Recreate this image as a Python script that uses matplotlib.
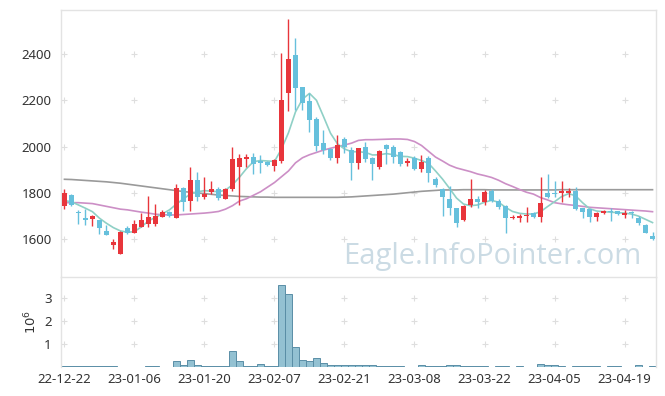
import matplotlib
matplotlib.use('Agg')
import matplotlib.pyplot as plt
import numpy as np
import pandas as pd

# trading days (KRX holidays skipped)
dates = pd.bdate_range('2022-12-22', '2023-04-25', freq='C',
                       holidays=['2022-12-30', '2023-01-23', '2023-01-24', '2023-03-01'])

opens = [1745, 1793, 1718, 1691, 1689, 1683, 1636, 1577, 1538, 1650,
         1629, 1654, 1664, 1668, 1698, 1718, 1691, 1820, 1765, 1856,
         1784, 1804, 1816, 1775, 1817, 1914, 1948, 1955, 1940, 1932,
         1917, 1940, 2231, 2396, 2257, 2199, 2121, 2017, 1989, 1953,
         2035, 1986, 1928, 1997, 1953, 1911, 2005, 1997, 1976, 1931,
         1953, 1904, 1953, 1860, 1817, 1773, 1734, 1683, 1748, 1773,
         1761, 1810, 1767, 1744, 1693, 1692, 1702, 1712, 1698, 1800,
         1800, 1799, 1801, 1810, 1734, 1730, 1698, 1712, 1722, 1722,
         1706, 1718, 1693, 1662, 1616]
closes = [1801, 1747, 1715, 1683, 1701, 1650, 1620, 1588, 1632, 1626,
          1666, 1683, 1697, 1701, 1718, 1700, 1820, 1762, 1856, 1784,
          1796, 1816, 1777, 1816, 1947, 1952, 1955, 1925, 1930, 1920,
          1943, 2202, 2379, 2255, 2188, 2115, 2004, 1986, 1953, 2006,
          2000, 1930, 1993, 1947, 1927, 1981, 1990, 1954, 1925, 1940,
          1905, 1934, 1885, 1833, 1784, 1734, 1672, 1744, 1773, 1762,
          1804, 1767, 1741, 1693, 1698, 1701, 1705, 1698, 1755, 1782,
          1794, 1808, 1810, 1732, 1719, 1698, 1715, 1724, 1718, 1708,
          1712, 1712, 1672, 1629, 1600]
highs = [1817, 1795, 1727, 1730, 1703, 1685, 1660, 1600, 1636, 1657,
         1683, 1715, 1785, 1751, 1727, 1722, 1840, 1827, 1911, 1889,
         1870, 1853, 1827, 1820, 2000, 1967, 1968, 1971, 1964, 1938,
         1947, 2405, 2550, 2468, 2258, 2230, 2130, 2072, 1995, 2049,
         2041, 2000, 1995, 2022, 1955, 1985, 2010, 2007, 1980, 1950,
         1960, 1964, 1960, 1870, 1820, 1830, 1736, 1748, 1859, 1787,
         1813, 1816, 1773, 1748, 1705, 1709, 1738, 1716, 1868, 1882,
         1853, 1850, 1823, 1825, 1737, 1732, 1719, 1727, 1734, 1724,
         1727, 1722, 1701, 1666, 1633]
lows = [1730, 1743, 1666, 1662, 1657, 1623, 1618, 1557, 1536, 1624,
        1627, 1652, 1655, 1656, 1694, 1694, 1690, 1724, 1724, 1765,
        1775, 1796, 1770, 1772, 1810, 1748, 1910, 1880, 1885, 1915,
        1894, 1928, 2155, 2159, 2159, 2065, 1981, 1968, 1944, 1931,
        1974, 1856, 1902, 1935, 1856, 1905, 1924, 1928, 1915, 1917,
        1897, 1892, 1849, 1827, 1700, 1705, 1652, 1680, 1741, 1734,
        1748, 1760, 1730, 1626, 1686, 1676, 1676, 1690, 1676, 1780,
        1784, 1760, 1784, 1725, 1691, 1676, 1680, 1708, 1679, 1703,
        1691, 1691, 1662, 1626, 1597]
volumes = [30000, 30000, 30000, 30000, 30000, 30000, 30000, 30000, 10000, 10000,
           10000, 10000, 30000, 30000, 10000, 10000, 260000, 70000, 300000, 80000,
           40000, 40000, 40000, 40000, 700000, 250000, 40000, 40000, 110000, 40000,
           40000, 3600000, 3200000, 880000, 300000, 260000, 380000, 160000, 70000, 70000,
           70000, 70000, 70000, 70000, 70000, 40000, 40000, 40000, 40000, 10000,
           10000, 70000, 30000, 30000, 30000, 70000, 70000, 30000, 30000, 30000,
           30000, 10000, 30000, 30000, 10000, 30000, 10000, 20000, 110000, 70000,
           70000, 30000, 10000, 30000, 30000, 30000, 30000, 10000, 30000, 30000,
           10000, 20000, 70000, 10000, 30000]

ma_short = [1767, 1762, 1748, 1734, 1719, 1691, 1669, 1650, 1636, 1630,
            1633, 1654, 1679, 1695, 1710, 1727, 1752, 1775, 1795, 1805,
            1810, 1808, 1805, 1812, 1835, 1868, 1905, 1935, 1940, 1938,
            1936, 1990, 2060, 2150, 2205, 2230, 2200, 2130, 2058, 2012,
            1990, 1978, 1978, 1975, 1964, 1965, 1970, 1965, 1958, 1957,
            1950, 1940, 1928, 1895, 1860, 1820, 1778, 1752, 1745, 1748,
            1760, 1768, 1760, 1738, 1720, 1712, 1709, 1709, 1719, 1741,
            1762, 1784, 1797, 1788, 1758, 1732, 1722, 1719, 1717, 1715,
            1713, 1709, 1700, 1686, 1672]
ma_mid = [1758, 1758, 1758, 1756, 1754, 1748, 1742, 1736, 1730, 1727,
          1722, 1717, 1713, 1708, 1706, 1705, 1705, 1707, 1709, 1711,
          1713, 1716, 1720, 1730, 1745, 1765, 1775, 1790, 1805, 1825,
          1845, 1870, 1895, 1930, 1952, 1965, 1975, 1985, 1993, 2000,
          2007, 2015, 2027, 2030, 2030, 2031, 2032, 2033, 2033, 2031,
          2022, 2005, 1980, 1955, 1938, 1920, 1908, 1900, 1892, 1882,
          1875, 1867, 1855, 1840, 1828, 1815, 1803, 1795, 1780, 1770,
          1758, 1753, 1749, 1746, 1742, 1738, 1736, 1734, 1732, 1730,
          1728, 1726, 1724, 1722, 1719]
ma_long = [1859, 1858, 1856, 1854, 1852, 1850, 1848, 1845, 1842, 1838,
           1834, 1830, 1826, 1822, 1818, 1814, 1810, 1806, 1803, 1800,
           1797, 1794, 1791, 1789, 1787, 1785, 1784, 1783, 1782, 1782,
           1781, 1781, 1781, 1781, 1781, 1781, 1781, 1781, 1781, 1781,
           1782, 1783, 1785, 1787, 1789, 1791, 1793, 1795, 1798, 1801,
           1804, 1807, 1809, 1811, 1813, 1813, 1813, 1814, 1814, 1814,
           1814, 1813, 1813, 1813, 1813, 1813, 1813, 1813, 1813, 1813,
           1813, 1814, 1814, 1814, 1814, 1814, 1814, 1814, 1814, 1814,
           1814, 1814, 1814, 1814, 1814]

price_ticks = [1600, 1800, 2000, 2200, 2400]
vol_ticks = [1e6, 2e6, 3e6]

UP = '#e8353b'
DOWN = '#66c0dc'
GRID = '#dedede'
SPINE = '#e3e3e3'

plt.rcParams['font.family'] = ['Noto Sans', 'DejaVu Sans']

fig = plt.figure(figsize=(6.65, 3.96), dpi=100)
ax = fig.add_axes([0.0922, 0.3005, 0.8943, 0.6742])
axv = fig.add_axes([0.0922, 0.0732, 0.8943, 0.2273], sharex=ax)

x = np.arange(len(closes))
o = np.array(opens)
c = np.array(closes)
colors = [UP if cc >= oo else DOWN for oo, cc in zip(o, c)]

# grid as little crosses at tick intersections
gx, gy = np.meshgrid(np.arange(0, 85, 10), price_ticks)
ax.scatter(gx.ravel(), gy.ravel(), marker='+', s=14, c=GRID, linewidths=0.8, zorder=0)
gx, gy = np.meshgrid(np.arange(0, 85, 10), vol_ticks)
axv.scatter(gx.ravel(), gy.ravel(), marker='+', s=14, c=GRID, linewidths=0.8, zorder=0)

ax.plot(x, ma_long, color='#9a9a9a', lw=1.2, zorder=1)
ax.plot(x, ma_mid, color='#cc8fc6', lw=1.2, zorder=1)
ax.plot(x, ma_short, color='#8fd0c6', lw=1.2, zorder=1)

ax.vlines(x, lows, highs, colors=colors, lw=1.0, zorder=2)
body = np.maximum(np.abs(c - o), 3)
ax.bar(x, body, bottom=np.minimum(o, c), width=0.62, color=colors, zorder=3)

axv.bar(x, volumes, width=1.0, color='#93c1d2', edgecolor='#5a8ea6', lw=0.7)

ax.text(0.975, 0.075, 'Eagle.InfoPointer.com', transform=ax.transAxes,
        ha='right', va='center', fontsize=21, color='#cbdbe4', family='Open Sans', zorder=0)

ax.set_xlim(-0.45, 84.5)
ax.set_ylim(1437, 2590)
axv.set_ylim(0, 3.93e6)

ax.set_yticks(price_ticks)
axv.set_yticks(vol_ticks)
axv.set_yticklabels(['1', '2', '3'])
axv.set_ylabel('$10^6$', fontsize=9.5, color='#333333', labelpad=3)

tick_pos = list(range(0, 85, 10))
axv.set_xticks(tick_pos)
axv.set_xticklabels([dates[i].strftime('%y-%m-%d') for i in tick_pos])

for a in (ax, axv):
    a.tick_params(length=0, labelsize=9.5, labelcolor='#333333', pad=7)
    for s in a.spines.values():
        s.set_color(SPINE)
        s.set_linewidth(1.0)
ax.tick_params(labelbottom=False)
ax.spines['bottom'].set_visible(False)
axv.spines['bottom'].set_visible(False)
axv.tick_params(axis='x', pad=4)

fig.savefig('out.png', dpi=100)
